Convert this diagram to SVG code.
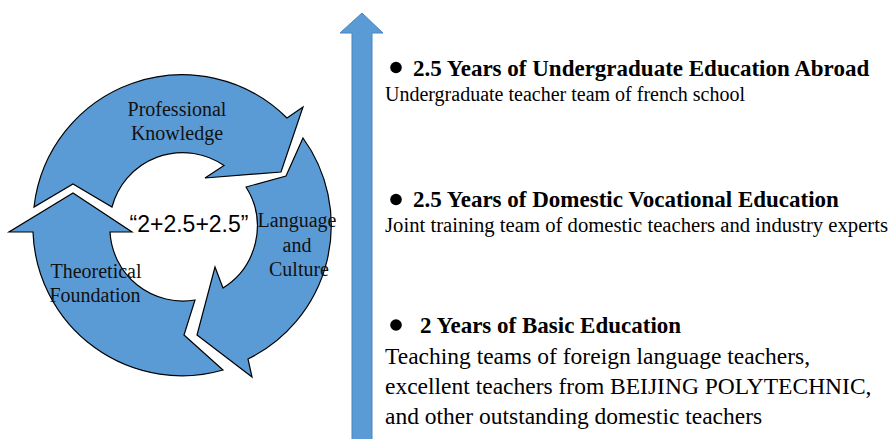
<svg xmlns="http://www.w3.org/2000/svg" width="893" height="439" viewBox="0 0 893 439">
  <style>
    .seg { fill: #5b9bd5; stroke: #000; stroke-width: 1.2; stroke-linejoin: miter; }
    .lbl { font-family: "Liberation Serif", "Times New Roman", serif; font-size: 20px; fill: #111; text-anchor: middle; }
    .center { font-family: "Liberation Sans", Arial, sans-serif; font-size: 23px; fill: #000; text-anchor: middle; }
    .head { font-family: "Liberation Serif", "Times New Roman", serif; font-size: 23px; font-weight: bold; fill: #000; }
    .body { font-family: "Liberation Serif", "Times New Roman", serif; font-size: 20px; fill: #000; }
    .body-lg { font-family: "Liberation Serif", "Times New Roman", serif; font-size: 23.5px; fill: #000; }
    .dot { fill: #000; }
  </style>
  <rect width="893" height="439" fill="#fff"/>

  <!-- cycle ring: three arrow segments around (183,226) -->
  <g id="professional-knowledge">
    <path class="seg" d="M34,207 A149,149 0 0 1 287,118 L303,107 L281,172 L205,178 L224,165.5 A73,73 0 0 0 112,207 L73,184 Z"/>
    <text class="lbl" x="177" y="116">Professional</text>
    <text class="lbl" x="177" y="140">Knowledge</text>
  </g>

  <g id="language-culture">
    <path class="seg" d="M303,138 A149,149 0 0 1 248,359 L252,377 L197,335 L215,267 L223,288 A73,73 0 0 0 246,187 L286,176 Z"/>
    <text class="lbl" x="297" y="227">Language</text>
    <text class="lbl" x="297" y="252">and</text>
    <text class="lbl" x="299" y="276">Culture</text>
  </g>

  <g id="theoretical-foundation">
    <path class="seg" d="M195,300 L184,335 L223,370 A149,149 0 0 1 33,232 L9,232 L73,193 L132,232 L110,232 A73,73 0 0 0 195,300 Z"/>
    <text class="lbl" x="96" y="278">Theoretical</text>
    <text class="lbl" x="95" y="302">Foundation</text>
  </g>

  <g id="cycle-title">
    <text class="center" x="189" y="232">“2+2.5+2.5”</text>
  </g>

  <!-- timeline arrow -->
  <g id="connectors">
    <path d="M352,445 L352,33 L340,33 L362,13 L383,33 L372,33 L372,445 Z" fill="#5b9bd5" stroke="#4a84c0" stroke-width="1"/>
  </g>

  <g id="stage-abroad">
    <circle class="dot" cx="396" cy="67.5" r="5.8"/>
    <text class="head" x="413" y="76">2.5 Years of Undergraduate Education Abroad</text>
    <text class="body" x="385" y="101">Undergraduate teacher team of french school</text>
  </g>

  <g id="stage-vocational">
    <circle class="dot" cx="396" cy="199.5" r="5.8"/>
    <text class="head" x="413" y="207">2.5 Years of Domestic Vocational Education</text>
    <text class="body" x="385" y="232" textLength="503" lengthAdjust="spacingAndGlyphs">Joint training team of domestic teachers and industry experts</text>
  </g>

  <g id="stage-basic">
    <circle class="dot" cx="396" cy="325" r="5.8"/>
    <text class="head" x="420" y="333">2 Years of Basic Education</text>
    <text class="body-lg" x="385" y="364">Teaching teams of foreign language teachers,</text>
    <text class="body-lg" x="385" y="394">excellent teachers from BEIJING POLYTECHNIC,</text>
    <text class="body-lg" x="385" y="424">and other outstanding domestic teachers</text>
  </g>
</svg>
